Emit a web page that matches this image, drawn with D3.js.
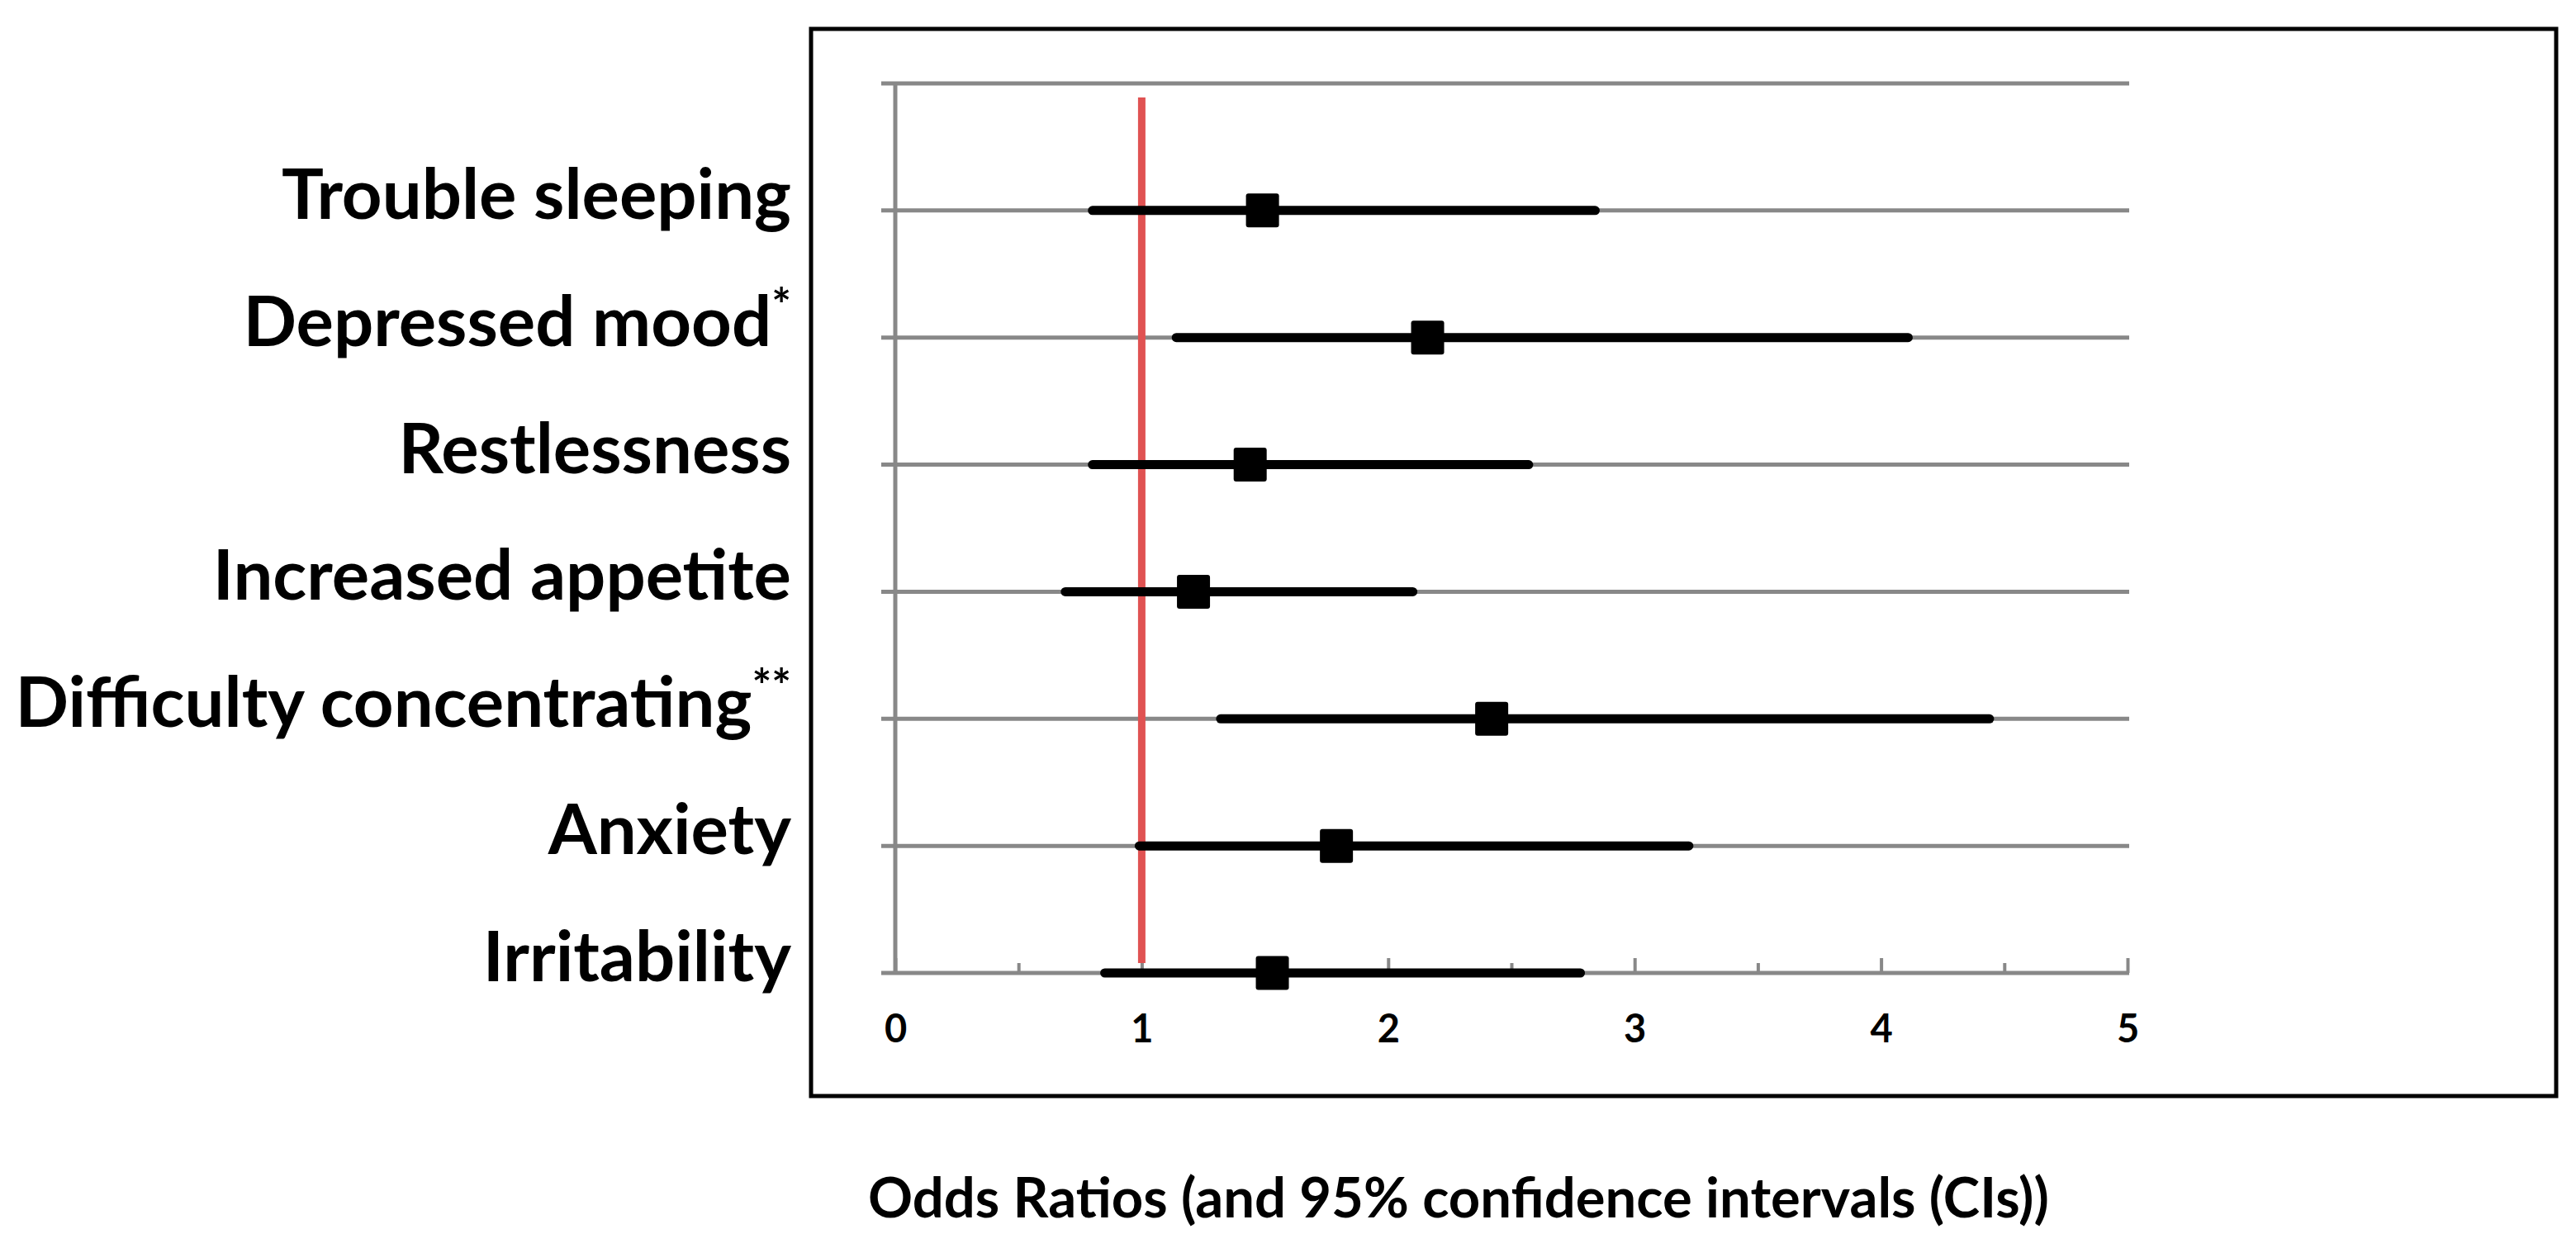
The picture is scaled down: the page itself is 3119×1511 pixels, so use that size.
<!DOCTYPE html>
<html lang="en">
<head>
    <meta charset="UTF-8">
    <title>Odds Ratios forest plot</title>
    <script src="https://d3js.org/d3.v7.min.js"></script>
    <style>
        body {
            margin: 0;
            background-color: #ffffff;
        }
        text {
            font-family: Lato, "Open Sans", sans-serif;
            font-weight: bold;
            fill: #000000;
        }
        .grid line {
            stroke: #888888;
            stroke-width: 5;
        }
        .x-axis line {
            stroke: #888888;
            stroke-width: 4;
        }
        .x-axis text {
            font-size: 47px;
        }
        .symptom {
            font-size: 85px;
        }
        .title {
            font-size: 67px;
        }
    </style>
</head>
<body>
    <svg id="chart" width="3119" height="1511"></svg>

    <script>
        // symptoms from top to bottom
        const symptoms = ["Trouble sleeping", "Depressed mood", "Restlessness", "Increased appetite",
                          "Difficulty concentrating", "Anxiety", "Irritability"];
        const significance = ["", "*", "", "", "**", "", ""];
        const oddsRatio = [1.49, 2.16, 1.44, 1.21, 2.42, 1.79, 1.53];
        const ciLower   = [0.80, 1.14, 0.80, 0.69, 1.32, 0.99, 0.85];
        const ciUpper   = [2.84, 4.11, 2.57, 2.10, 4.44, 3.22, 2.78];
        const xTicks = [0, 1, 2, 3, 4, 5];
        const xMinorTicks = [0.5, 1.5, 2.5, 3.5, 4.5];
        const referenceValue = 1;
        const xTitle = "Odds Ratios (and 95% confidence intervals (CIs))";

        const width = 3119;
        const height = 1511;

        const svg = d3.select("#chart")
            .attr("width", width)
            .attr("height", height);

        const x = d3.scaleLinear()
            .domain([0, 5])
            .range([1084, 2576]);

        // row slots: 0 = bottom axis, 7 = top gridline
        const y = d3.scaleLinear()
            .domain([0, symptoms.length])
            .range([1178, 101]);

        const rowValue = i => symptoms.length - 1 - i;

        // outer frame
        svg.append("rect")
            .attr("x", 982)
            .attr("y", 35)
            .attr("width", 3095 - 982)
            .attr("height", 1327 - 35)
            .attr("fill", "none")
            .attr("stroke", "#000")
            .attr("stroke-width", 5);

        // horizontal gridlines (including axis line)
        const grid = svg.append("g").attr("class", "grid");
        grid.selectAll(".hline")
            .data(d3.range(0, symptoms.length + 1))
            .enter().append("line")
            .attr("class", "hline")
            .attr("x1", x(0) - 17)
            .attr("x2", x(5) + 2)
            .attr("y1", d => y(d))
            .attr("y2", d => y(d));

        // vertical axis line
        grid.append("line")
            .attr("x1", x(0))
            .attr("x2", x(0))
            .attr("y1", y(symptoms.length))
            .attr("y2", y(0));

        // x axis ticks (pointing up, inside)
        const xAxis = svg.append("g")
            .attr("class", "x-axis")
            .attr("transform", `translate(0,${y(0)})`)
            .call(d3.axisBottom(x).tickValues(xTicks).tickSizeInner(-18).tickSizeOuter(0).tickPadding(51).tickFormat(d3.format("d")));
        xAxis.select(".domain").remove();
        xAxis.selectAll("text").attr("fill", "#000").attr("font-family", null).attr("font-size", null);

        const xMinor = svg.append("g")
            .attr("class", "x-axis")
            .attr("transform", `translate(0,${y(0)})`)
            .call(d3.axisBottom(x).tickValues(xMinorTicks).tickSizeInner(-12).tickSizeOuter(0).tickFormat(""));
        xMinor.select(".domain").remove();

        // reference line at OR = 1
        svg.append("line")
            .attr("x1", x(referenceValue))
            .attr("x2", x(referenceValue))
            .attr("y1", y(symptoms.length) + 17)
            .attr("y2", y(0) - 12)
            .attr("stroke", "#e05252")
            .attr("stroke-width", 9);

        // confidence interval whiskers
        svg.selectAll(".ci")
            .data(symptoms)
            .enter().append("line")
            .attr("class", "ci")
            .attr("x1", (d, i) => x(ciLower[i]))
            .attr("x2", (d, i) => x(ciUpper[i]))
            .attr("y1", (d, i) => y(rowValue(i)))
            .attr("y2", (d, i) => y(rowValue(i)))
            .attr("stroke", "#000")
            .attr("stroke-width", 11)
            .attr("stroke-linecap", "round");

        // odds ratio markers
        const box = 40;
        svg.selectAll(".or")
            .data(symptoms)
            .enter().append("rect")
            .attr("class", "or")
            .attr("x", (d, i) => x(oddsRatio[i]) - box / 2)
            .attr("y", (d, i) => y(rowValue(i)) - box / 2 - 0.5)
            .attr("width", box)
            .attr("height", box + 1)
            .attr("rx", 3)
            .attr("fill", "#000");

        // symptom labels
        const labels = svg.selectAll(".symptom")
            .data(symptoms)
            .enter().append("text")
            .attr("class", "symptom")
            .attr("x", 958)
            .attr("y", (d, i) => y(rowValue(i)) + 10)
            .attr("text-anchor", "end");
        labels.append("tspan").text(d => d);
        labels.append("tspan")
            .attr("font-size", "56px")
            .attr("dy", -30)
            .text((d, i) => significance[i]);

        // axis title
        svg.append("text")
            .attr("class", "title")
            .attr("x", 1766)
            .attr("y", 1474)
            .attr("text-anchor", "middle")
            .text(xTitle);
    </script>
</body>
</html>
